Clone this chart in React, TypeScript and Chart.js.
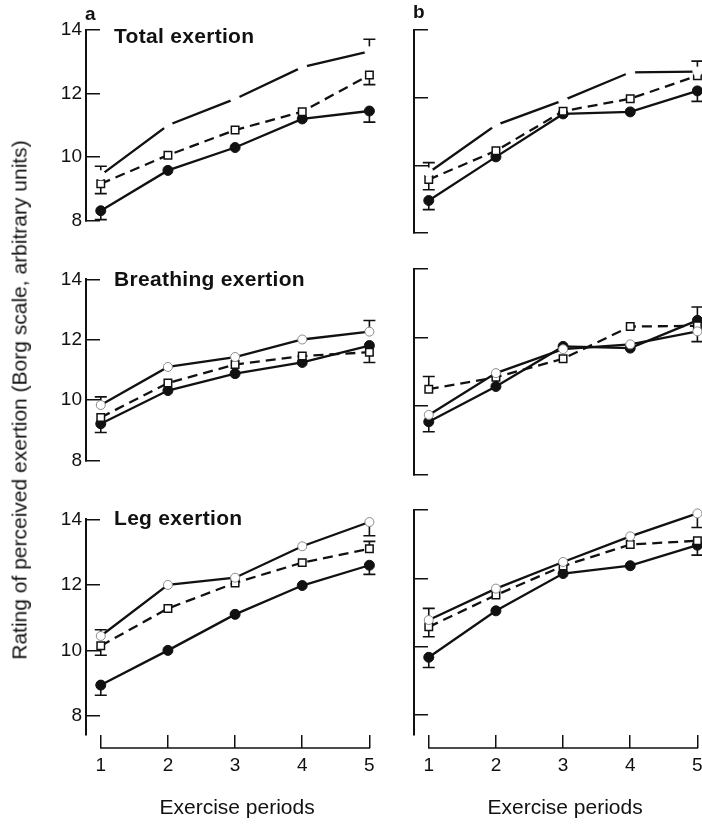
import React, { useEffect, useRef } from 'react';
import { Chart, registerables } from 'chart.js';

Chart.register(...registerables);

const FONT = "'Liberation Sans', Arial, Helvetica, sans-serif";
const INK = '#111';

// ---- text ----
const columnLabels = ['a', 'b'];
const panelTitles = ['Total exertion', 'Breathing exertion', 'Leg exertion'];
const xAxisTitle = 'Exercise periods';
const yAxisTitle = 'Rating of perceived exertion (Borg scale, arbitrary units)';

// ---- axes ----
const periods = [1, 2, 3, 4, 5];
const yTickValues = [8, 10, 12, 14];

// ---- Total exertion ----
const totalA_open = [9.43, 11.0, 11.83, 12.83, 13.33];
const totalA_openErr = [9.71, null, null, null, 13.71];
const totalA_square = [9.16, 10.06, 10.85, 11.43, 12.58];
const totalA_squareErr = [8.85, null, null, null, 12.28];
const totalA_filled = [8.31, 9.58, 10.3, 11.2, 11.45];
const totalA_filledErr = [8.03, null, null, null, 11.1];

const totalB_open = [9.79, 11.19, 11.92, 12.75, 12.77];
const totalB_openErr = [10.08, null, null, null, 13.08];
const totalB_square = [9.58, 10.43, 11.6, 11.97, 12.65];
const totalB_squareErr = [9.28, null, null, null, null];
const totalB_filled = [8.96, 10.25, 11.52, 11.58, 12.2];
const totalB_filledErr = [8.69, null, null, null, 11.89];

// ---- Breathing exertion ----
const breathA_open = [9.84, 11.1, 11.43, 12.01, 12.27];
const breathA_openErr = [10.11, null, null, null, 12.64];
const breathA_square = [9.43, 10.57, 11.18, 11.46, 11.59];
const breathA_squareErr = [null, null, null, null, 11.25];
const breathA_filled = [9.22, 10.32, 10.88, 11.25, 11.81];
const breathA_filledErr = [8.93, null, null, null, null];

const breathB_open = [9.74, 10.96, 11.66, 11.8, 12.18];
const breathB_openErr = [null, null, null, null, 11.88];
const breathB_square = [10.49, 10.84, 11.38, 12.32, 12.34];
const breathB_squareErr = [10.86, null, null, null, null];
const breathB_filled = [9.54, 10.57, 11.74, 11.69, 12.5];
const breathB_filledErr = [9.25, null, null, null, 12.89];

// ---- Leg exertion ----
const legA_open = [10.44, 12.0, 12.22, 13.18, 13.92];
const legA_openErr = [10.63, null, null, null, 13.5];
const legA_square = [10.14, 11.28, 12.06, 12.68, 13.1];
const legA_squareErr = [9.85, null, null, null, 13.33];
const legA_filled = [8.94, 10.0, 11.1, 11.98, 12.6];
const legA_filledErr = [8.63, null, null, null, 12.32];

const legB_open = [10.78, 11.7, 12.48, 13.23, 13.9];
const legB_openErr = [11.12, null, null, null, 13.49];
const legB_square = [10.58, 11.51, 12.36, 12.99, 13.1];
const legB_squareErr = [10.29, null, null, null, null];
const legB_filled = [9.69, 11.05, 12.14, 12.37, 12.97];
const legB_filledErr = [9.39, null, null, null, 12.68];

const seriesGrid = [
  [
    { open: totalA_open, openErr: totalA_openErr, square: totalA_square, squareErr: totalA_squareErr, filled: totalA_filled, filledErr: totalA_filledErr },
    { open: totalB_open, openErr: totalB_openErr, square: totalB_square, squareErr: totalB_squareErr, filled: totalB_filled, filledErr: totalB_filledErr },
  ],
  [
    { open: breathA_open, openErr: breathA_openErr, square: breathA_square, squareErr: breathA_squareErr, filled: breathA_filled, filledErr: breathA_filledErr },
    { open: breathB_open, openErr: breathB_openErr, square: breathB_square, squareErr: breathB_squareErr, filled: breathB_filled, filledErr: breathB_filledErr },
  ],
  [
    { open: legA_open, openErr: legA_openErr, square: legA_square, squareErr: legA_squareErr, filled: legA_filled, filledErr: legA_filledErr },
    { open: legB_open, openErr: legB_openErr, square: legB_square, squareErr: legB_squareErr, filled: legB_filled, filledErr: legB_filledErr },
  ],
];

// ---- layout (styles only) ----
const COL_LAYOUT = [{ left: 0 }, { left: 328 }];
const ROW_LAYOUT = [
  { top: 0, height: 250, padTop: 30, padBottom: 17, yMin: 8, showX: false, openBorder: '#ffffff', titleTop: 25 },
  { top: 250, height: 240, padTop: 19, padBottom: 15.5, yMin: 8, showX: false, openBorder: '#8a8a8a', titleTop: 268 },
  { top: 490, height: 340, padTop: 20, padBottom: 0, yMin: 7.416, showX: true, openBorder: '#8a8a8a', titleTop: 507 },
];
const CANVAS_W = 395;
const Y_AXIS_W = 86;
const LINE_W = 2.3;

const errorBarPlugin = {
  id: 'errorBars',
  beforeDatasetsDraw(chart: any) {
    const { ctx } = chart;
    const xs = chart.scales.x;
    const ys = chart.scales.y;
    ctx.save();
    ctx.strokeStyle = INK;
    ctx.lineWidth = 1.6;
    chart.data.datasets.forEach((ds: any) => {
      const ends = ds.errorEnds;
      if (!ends) return;
      ends.forEach((e: number | null, i: number) => {
        if (e == null) return;
        const px = xs.getPixelForValue(ds.data[i].x);
        const py0 = ys.getPixelForValue(ds.data[i].y);
        const py1 = ys.getPixelForValue(e);
        ctx.beginPath();
        ctx.moveTo(px, py0);
        ctx.lineTo(px, py1);
        ctx.moveTo(px - 6, py1);
        ctx.lineTo(px + 6, py1);
        ctx.stroke();
      });
    });
    ctx.restore();
  },
};

const xBaselinePlugin = {
  id: 'xBaseline',
  afterDraw(chart: any) {
    const xs = chart.scales.x;
    if (!xs || !xs.options.display) return;
    const { ctx } = chart;
    const y = xs.top + xs.options.grid.tickLength;
    ctx.save();
    ctx.strokeStyle = INK;
    ctx.lineWidth = 1.5;
    ctx.beginPath();
    ctx.moveTo(xs.getPixelForValue(periods[0]) - 0.75, y);
    ctx.lineTo(xs.getPixelForValue(periods[periods.length - 1]) + 0.75, y);
    ctx.stroke();
    ctx.restore();
  },
};

function toPoints(vals: number[]) {
  return periods.map((p, i) => ({ x: p, y: vals[i] }));
}

function Panel({ row, col }: { row: number; col: number }) {
  const ref = useRef<HTMLCanvasElement>(null);
  const R = ROW_LAYOUT[row];
  const C = COL_LAYOUT[col];
  useEffect(() => {
    const s = seriesGrid[row][col];
    const chart = new Chart(ref.current as HTMLCanvasElement, {
      type: 'line',
      data: {
        datasets: [
          {
            data: toPoints(s.open),
            errorEnds: s.openErr,
            borderColor: INK,
            borderWidth: LINE_W,
            pointStyle: 'circle',
            pointRadius: 4.5,
            pointBackgroundColor: '#ffffff',
            pointBorderColor: R.openBorder,
            pointBorderWidth: 1,
            tension: 0,
            clip: false,
          } as any,
          {
            data: toPoints(s.square),
            errorEnds: s.squareErr,
            borderColor: INK,
            borderWidth: LINE_W,
            borderDash: [10, 6],
            pointStyle: 'rect',
            pointRadius: 5.3,
            pointBackgroundColor: '#ffffff',
            pointBorderColor: INK,
            pointBorderWidth: 1.5,
            tension: 0,
            clip: false,
          } as any,
          {
            data: toPoints(s.filled),
            errorEnds: s.filledErr,
            borderColor: INK,
            borderWidth: LINE_W,
            pointStyle: 'circle',
            pointRadius: 5,
            pointBackgroundColor: INK,
            pointBorderColor: INK,
            pointBorderWidth: 1,
            tension: 0,
            clip: false,
          } as any,
        ],
      },
      options: {
        animation: false,
        responsive: false,
        events: [],
        layout: { padding: { top: R.padTop, bottom: R.padBottom, left: 0, right: 3 } },
        plugins: { legend: { display: false }, tooltip: { enabled: false }, title: { display: false } },
        scales: {
          x: {
            type: 'linear',
            min: 0.78,
            max: 5.28,
            display: R.showX,
            afterBuildTicks: (sc: any) => {
              sc.ticks = periods.map((v) => ({ value: v }));
            },
            afterFit: (sc: any) => {
              sc.height = R.showX ? 95 : 0;
            },
            border: { display: false },
            grid: { drawOnChartArea: false, drawTicks: true, tickLength: 13, color: INK, lineWidth: 1.5 },
            ticks: { color: INK, font: { family: FONT, size: 19 }, padding: 6, maxRotation: 0 },
            title: {
              display: true,
              text: xAxisTitle,
              color: INK,
              font: { family: FONT, size: 21 },
              padding: { top: 0, bottom: 9 },
            },
          },
          y: {
            type: 'linear',
            position: 'left',
            min: R.yMin,
            max: 14,
            afterBuildTicks: (sc: any) => {
              sc.ticks = yTickValues.map((v) => ({ value: v }));
            },
            afterFit: (sc: any) => {
              sc.width = Y_AXIS_W;
            },
            border: { display: true, color: INK, width: 2 },
            grid: { drawOnChartArea: false, drawTicks: true, tickLength: -14, color: INK, lineWidth: 1.5 },
            ticks: { display: col === 0, color: INK, font: { family: FONT, size: 19 }, padding: 18 },
          },
        },
      } as any,
      plugins: [errorBarPlugin, xBaselinePlugin],
    });
    return () => chart.destroy();
  }, [row, col]);
  return (
    <canvas
      ref={ref}
      width={CANVAS_W}
      height={R.height}
      style={{ position: 'absolute', left: C.left, top: R.top, width: CANVAS_W, height: R.height }}
    />
  );
}

export default function App() {
  const textBase: React.CSSProperties = {
    position: 'absolute',
    fontFamily: FONT,
    color: INK,
    lineHeight: 1,
    whiteSpace: 'nowrap',
  };
  return (
    <div
      style={{
        position: 'absolute',
        left: 0,
        top: 0,
        width: 702,
        height: 830,
        overflow: 'hidden',
        background: '#ffffff',
      }}
    >
      {ROW_LAYOUT.map((_, r) =>
        COL_LAYOUT.map((__, c) => <Panel key={`${r}-${c}`} row={r} col={c} />)
      )}
      {panelTitles.map((t, r) => (
        <div
          key={t}
          style={{ ...textBase, left: 114, top: ROW_LAYOUT[r].titleTop, fontSize: 21, fontWeight: 'bold', letterSpacing: 0.3 }}
        >
          {t}
        </div>
      ))}
      <div style={{ ...textBase, left: 85, top: 4, fontSize: 19, fontWeight: 'bold' }}>{columnLabels[0]}</div>
      <div style={{ ...textBase, left: 413, top: 2, fontSize: 19, fontWeight: 'bold' }}>{columnLabels[1]}</div>
      <div
        style={{
          ...textBase,
          left: 19,
          top: 400,
          fontSize: 21,
          transform: 'translate(-50%, -50%) rotate(-90deg)',
        }}
      >
        {yAxisTitle}
      </div>
    </div>
  );
}
